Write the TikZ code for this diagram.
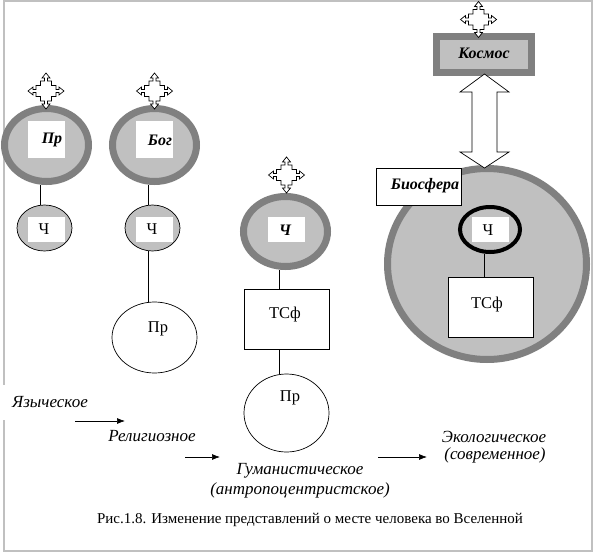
\documentclass[tikz,border=0pt]{standalone}
\usepackage{fontspec}
\setmainfont{Liberation Serif}
\usetikzlibrary{shapes.geometric,arrows.meta,calc}
\definecolor{dgray}{RGB}{128,128,128}
\definecolor{lgray}{RGB}{192,192,192}
\definecolor{framegray}{RGB}{192,192,192}
\begin{document}
\begin{tikzpicture}[x=1pt,y=-1pt,
  bigell/.style={ellipse, draw=dgray, line width=7pt, fill=lgray, inner sep=0pt},
  smallell/.style={ellipse, draw=black, line width=0.7pt, fill=lgray, inner sep=0pt, minimum width=55pt, minimum height=46pt},
  whitebox/.style={rectangle, fill=white, inner sep=0pt},
  plainbox/.style={rectangle, draw=black, line width=0.7pt, fill=white, inner sep=0pt},
  whiteell/.style={ellipse, draw=black, line width=0.7pt, fill=white, inner sep=0pt},
  conn/.style={line width=0.7pt},
  bi/.style={font=\fontsize{16}{18}\selectfont\bfseries\itshape, inner sep=0pt},
  rg/.style={font=\fontsize{16.5}{18}\selectfont, inner sep=0pt},
  itl/.style={font=\fontsize{17}{19}\selectfont\itshape, inner sep=0pt},
  captionfont/.style={font=\fontsize{15}{17}\selectfont, inner sep=0pt},
  stagearrow/.style={-{Latex[length=8pt,width=6pt]}, line width=0.7pt},
  moveicon/.pic={
    \draw[fill=white, line width=0.7pt]
      (0,-18) -- (4,-13) -- (1.5,-13) -- (1.5,-10) -- (5.5,-10) -- (5.5,-5.5)
      -- (10,-5.5) -- (10,-1.5) -- (13,-1.5) -- (13,-4) -- (18,0)
      -- (13,4) -- (13,1.5) -- (10,1.5) -- (10,5.5) -- (5.5,5.5)
      -- (5.5,10) -- (1.5,10) -- (1.5,13) -- (4,13) -- (0,18)
      -- (-4,13) -- (-1.5,13) -- (-1.5,10) -- (-5.5,10) -- (-5.5,5.5)
      -- (-10,5.5) -- (-10,1.5) -- (-13,1.5) -- (-13,4) -- (-18,0)
      -- (-13,-4) -- (-13,-1.5) -- (-10,-1.5) -- (-10,-5.5) -- (-5.5,-5.5)
      -- (-5.5,-10) -- (-1.5,-10) -- (-1.5,-13) -- (-4,-13) -- cycle;
  }
]
\useasboundingbox (0,0) rectangle (597,554);
\fill[white] (0,0) rectangle (597,554);
\draw[framegray, line width=1.5pt] (4,1) rectangle (592,551);

% ---------- column 1 ----------
\node[bigell, minimum width=84pt, minimum height=73pt] (eA) at (46.5,145) {};
\node[whitebox, minimum width=37pt, minimum height=37pt] (wA) at (46.5,139.5) {};
\node[bi] (tA) at (52,140) {Пр};
\node[smallell] (sA) at (44.5,228) {};
\node[whitebox, minimum width=37pt, minimum height=25pt] (wsA) at (46.5,229.5) {};
\node[rg] (tsA) at (44,229) {Ч};
\draw[conn] ([xshift=-6pt]eA.south) -- ([xshift=-6pt]eA.south |- sA.north);
\pic at (46,91) {moveicon};

% ---------- column 2 ----------
\node[bigell, minimum width=84pt, minimum height=73pt] (eB) at (154.5,145) {};
\node[whitebox, minimum width=37pt, minimum height=37pt] (wB) at (154.5,139.5) {};
\node[bi] (tB) at (160,140) {Бог};
\node[smallell] (sB) at (152.5,228) {};
\node[whiteell, minimum width=85pt, minimum height=71pt] (pB) at (154.5,337.5) {};
\node[whitebox, minimum width=37pt, minimum height=25pt] (wsB) at (154.5,229.5) {};
\node[rg] (tsB) at (152,229) {Ч};
\node[rg] (tpB) at (158,329) {Пр};
\draw[conn] ([xshift=-6.5pt]eB.south) -- ([xshift=-6.5pt]eB.south |- sB.north);
\draw[conn] ([xshift=-6.5pt]eB.south |- sB.south) -- ([xshift=-6.5pt]eB.south |- pB.north);
\pic at (154.5,91) {moveicon};

% ---------- column 3 ----------
\node[bigell, minimum width=84pt, minimum height=70pt] (eC) at (285.5,231.5) {};
\node[whitebox, minimum width=37pt, minimum height=25pt] (wC) at (286.5,229.5) {};
\node[bi] (tC) at (285,230) {Ч};
\node[plainbox, minimum width=85pt, minimum height=60pt] (bC) at (286.5,319) {};
\node[rg] (tbC) at (285,315) {ТСф};
\node[whiteell, minimum width=85pt, minimum height=78pt] (pC) at (286.5,413) {};
\node[rg] (tpC) at (290,398) {Пр};
\draw[conn] ([xshift=-6pt]eC.south) -- ([xshift=-6pt]eC.south |- bC.north);
\draw[conn] ([xshift=-6pt]eC.south |- bC.south) -- ([xshift=-6pt]eC.south |- pC.north);
\pic at (286.5,175) {moveicon};

% ---------- column 4 ----------
\node[draw=dgray, line width=7pt, fill=lgray, minimum width=95pt, minimum height=36pt, inner sep=0pt] (kos) at (484,54.5) {};
\node[bi] (tkos) at (484,53) {Космос};
\pic at (478.5,19.5) {moveicon};
\node[bigell, minimum width=199pt, minimum height=191pt] (bio) at (487,264) {};
\coordinate (dt) at ($(kos.south)+(0.5,-2)$);
\coordinate (db) at ($(bio.north)+(-2.5,3)$);
\draw[fill=white, line width=0.7pt] (dt) -- ++(24.5,18) -- ++(-12,0) -- ($(db)+(12.5,-16)$) -- ++(12,0)
  -- (db) -- ++(-24.5,-16) -- ++(12,0) -- ($(dt)+(-12.5,18)$) -- ++(-12,0) -- cycle;
\node[plainbox, minimum width=85pt, minimum height=37pt] (bbox) at (418.5,186.5) {};
\node[bi] (tbio) at (425,186) {Биосфера};
\node[ellipse, draw=black, line width=4pt, inner sep=0pt, minimum width=60pt, minimum height=45pt] (chD) at (490,229.5) {};
\node[whitebox, minimum width=37pt, minimum height=25pt] (wD) at (490.5,229.5) {};
\node[rg] (tD) at (488,230) {Ч};
\node[plainbox, minimum width=85pt, minimum height=60pt] (bD) at (490.5,307) {};
\node[rg] (tbD) at (487,305) {ТСф};
\draw[conn] ([xshift=-6pt]chD.south) -- ([xshift=-6pt]chD.south |- bD.north);

% ---------- stage labels ----------
\node[itl, fill=white, minimum height=35pt, inner xsep=10pt] (st1) at (50,402.5) {Языческое};
\node[itl] (st2) at (152,436) {Религиозное};
\node[itl] (st3) at (300,471) {Гуманистическое};
\node[itl] (st3b) at (300,490) {(антропоцентристское)};
\node[itl] (st4) at (494,437) {Экологическое};
\node[itl] (st4b) at (495,455) {(современное)};
\coordinate (a1s) at (75,421);  \coordinate (a1e) at (125,421);
\coordinate (a2s) at (185,457); \coordinate (a2e) at (220,457);
\coordinate (a3s) at (378,457); \coordinate (a3e) at (427,457);
\draw[stagearrow] (a1s) -- (a1e);
\draw[stagearrow] (a2s) -- (a2e);
\draw[stagearrow] (a3s) -- (a3e);

\node[captionfont] (cap) at (310,520) {Рис.1.8. Изменение представлений о месте человека во Вселенной};
\end{tikzpicture}
\end{document}
